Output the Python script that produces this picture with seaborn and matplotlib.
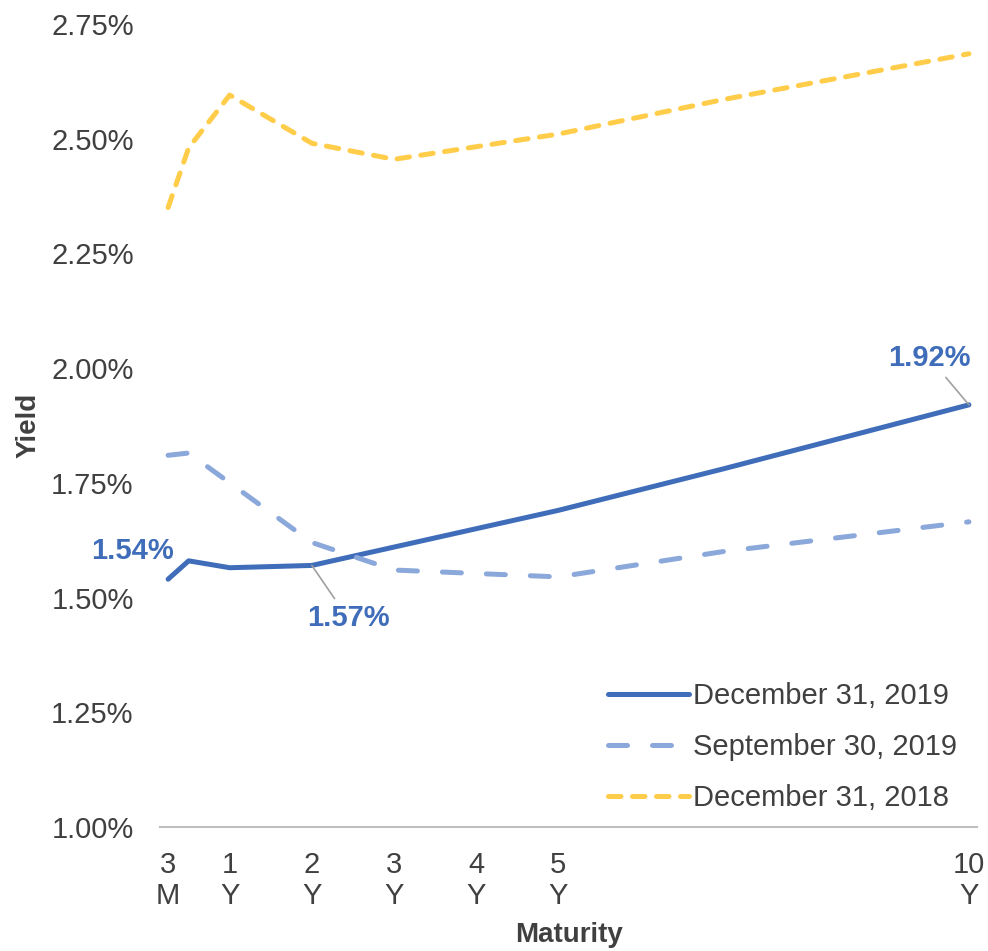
import pandas as pd
import seaborn as sns
import matplotlib.pyplot as plt
from matplotlib.lines import Line2D

# maturities in years
years = [0.25, 0.5, 1, 2, 3, 5, 7, 10]
dec_2019 = [1.54, 1.58, 1.565, 1.57, 1.61, 1.69, 1.78, 1.92]
sep_2019 = [1.81, 1.815, 1.75, 1.62, 1.56, 1.545, 1.60, 1.665]
dec_2018 = [2.35, 2.48, 2.595, 2.49, 2.455, 2.51, 2.585, 2.685]
series_names = ["December 31, 2019", "September 30, 2019", "December 31, 2018"]

tick_pos = [0.25, 1, 2, 3, 4, 5, 10]
tick_labels = ["3\nM", "1\nY", "2\nY", "3\nY", "4\nY", "5\nY", "10\nY"]
y_ticks = [1.00, 1.25, 1.50, 1.75, 2.00, 2.25, 2.50, 2.75]

df = pd.DataFrame({
    "years": years * 3,
    "yield": dec_2019 + sep_2019 + dec_2018,
    "serie": [series_names[0]] * len(years) + [series_names[1]] * len(years) + [series_names[2]] * len(years),
})

sns.set_style("white")
plt.rcParams["font.family"] = ["Liberation Sans", "DejaVu Sans"]

colori = {series_names[0]: "#3F6DB9", series_names[1]: "#8BA8DA", series_names[2]: "#FFCD4A"}
grigio = "#404040"
fs = 21

fig = plt.figure(figsize=(9.88, 9.51), dpi=100)
ax = fig.add_axes([0.162, 0.1304, 0.827, 0.8444])

sns.lineplot(data=df, x="years", y="yield", hue="serie", palette=colori, ax=ax,
             linewidth=3.6, legend=False)

# solido, tratteggio lungo, tratteggio corto
stili = ["-", (0, (3.8, 5.0)), (0, (2.5, 2.3))]
for line, ls in zip(ax.get_lines(), stili):
    line.set_solid_capstyle("round")
    line.set_dash_capstyle("round")
    line.set_linestyle(ls)

ax.set_xlim(0.152, 10.1)
ax.set_ylim(1.0, 2.75)
ax.set_xticks(tick_pos)
ax.set_xticklabels(tick_labels, fontsize=fs, color=grigio, linespacing=1.15)
ax.set_yticks(y_ticks)
ax.set_yticklabels([f"{v:.2f}%" for v in y_ticks], fontsize=fs, color=grigio)
ax.tick_params(axis="both", length=0)
ax.tick_params(axis="x", pad=17)
ax.tick_params(axis="y", pad=19)

for s in ["top", "right", "left"]:
    ax.spines[s].set_visible(False)
ax.spines["bottom"].set_color("#BFBFBF")
ax.spines["bottom"].set_linewidth(1.5)

ax.set_xlabel("Maturity", fontsize=20, fontweight="bold", color=grigio)
ax.xaxis.set_label_coords(0.5, -0.118)
ax.set_ylabel("Yield", fontsize=20, fontweight="bold", color=grigio)
ax.yaxis.set_label_coords(-0.145, 0.5)

# etichette
blu = "#3F6DB9"
ax.text(-0.18, 1.601, "1.54%", color=blu, fontsize=fs, fontweight="bold", ha="center", va="center")
ax.annotate("1.57%", xy=(2, 1.57), xytext=(2.44, 1.455), color=blu, fontsize=fs, fontweight="bold",
            ha="center", va="center",
            arrowprops=dict(arrowstyle="-", color="#A0A0A0", lw=1.2, shrinkA=2, shrinkB=0))
ax.annotate("1.92%", xy=(10, 1.92), xytext=(9.52, 2.022), color=blu, fontsize=fs, fontweight="bold",
            ha="center", va="center",
            arrowprops=dict(arrowstyle="-", color="#A0A0A0", lw=1.2, shrinkA=2, shrinkB=0))

# legenda
handles = [Line2D([], [], color=colori[n], lw=3.6, linestyle=ls,
                  solid_capstyle="round", dash_capstyle="round")
           for n, ls in zip(series_names, stili)]
leg = ax.legend(handles, series_names, loc="lower right", bbox_to_anchor=(0.994, 0.0),
                frameon=False, fontsize=fs, handlelength=2.75, handletextpad=0.15,
                labelspacing=0.78, borderaxespad=0.12)
for t in leg.get_texts():
    t.set_color(grigio)

fig.savefig("out.png", dpi=100)
